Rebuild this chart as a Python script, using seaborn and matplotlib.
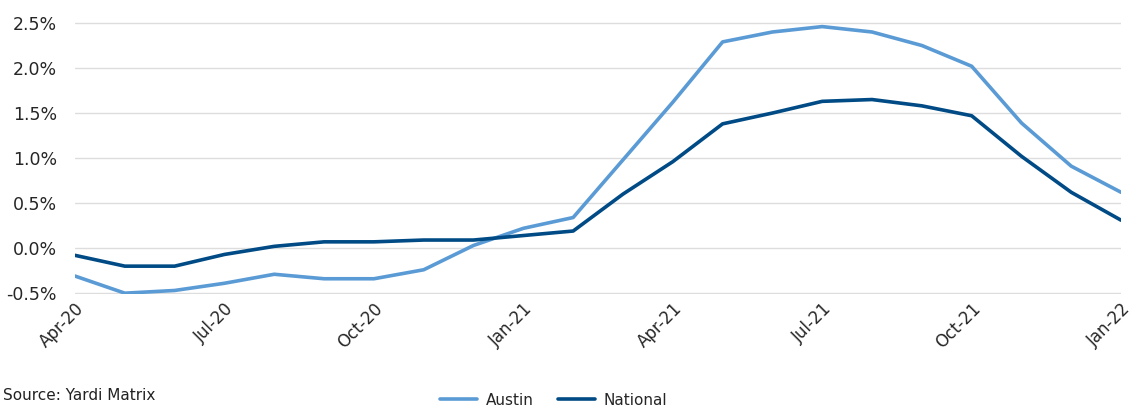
"""Austin vs National rent growth chart (Yardi Matrix)."""

import pandas as pd
import matplotlib
matplotlib.use('Agg')
import matplotlib.pyplot as plt
import seaborn as sns
from matplotlib.ticker import FuncFormatter

months = ['Apr-20', 'May-20', 'Jun-20', 'Jul-20', 'Aug-20', 'Sep-20', 'Oct-20',
          'Nov-20', 'Dec-20', 'Jan-21', 'Feb-21', 'Mar-21', 'Apr-21', 'May-21',
          'Jun-21', 'Jul-21', 'Aug-21', 'Sep-21', 'Oct-21', 'Nov-21', 'Dec-21',
          'Jan-22']
austin = [-0.31, -0.50, -0.47, -0.39, -0.29, -0.34, -0.34, -0.24, 0.03, 0.22,
          0.34, 0.98, 1.62, 2.29, 2.40, 2.46, 2.40, 2.25, 2.02, 1.39, 0.91, 0.62]
national = [-0.08, -0.20, -0.20, -0.07, 0.02, 0.07, 0.07, 0.09, 0.09, 0.14,
            0.19, 0.60, 0.96, 1.38, 1.50, 1.63, 1.65, 1.58, 1.47, 1.02, 0.62, 0.31]
series_names = ['Austin', 'National']
colors = ['#5B9BD5', '#004B85']

def main():
    sns.set_style('white')
    plt.rcParams['font.family'] = ['DejaVu Sans']

    df = pd.DataFrame({'idx': list(range(len(months))) * 2,
                       'value': austin + national,
                       'series': ['Austin'] * len(months) + ['National'] * len(months)})

    fig = plt.figure(figsize=(11.37, 4.09), dpi=100)
    ax = fig.add_axes([0.066, 0.281, 0.920, 0.665])

    sns.lineplot(data=df, x='idx', y='value', hue='series', hue_order=series_names,
                 palette=colors, linewidth=2.6, ax=ax, legend=False)

    ax.set_xlim(0, len(months) - 1)
    ax.set_ylim(-0.51, 2.51)
    ax.set_yticks([-0.5, 0, 0.5, 1.0, 1.5, 2.0, 2.5])
    ax.yaxis.set_major_formatter(FuncFormatter(lambda v, p: f'{v:.1f}%'))
    ax.set_xticks(range(0, len(months), 3))
    ax.set_xticklabels(months[::3], rotation=45, ha='right', rotation_mode='anchor')
    ax.tick_params(axis='both', labelsize=12.5, colors='#262626', length=0)
    ax.tick_params(axis='y', pad=13)
    ax.tick_params(axis='x', labelsize=12, pad=4)
    ax.grid(axis='y', color='#DDDDDD', linewidth=1)
    ax.set_axisbelow(True)
    for s in ax.spines.values():
        s.set_visible(False)
    ax.set_xlabel('')
    ax.set_ylabel('')

    handles = [plt.Line2D([], [], color=c, linewidth=2.6) for c in colors]
    fig.legend(handles, series_names, loc='center', bbox_to_anchor=(0.487, 0.022),
               ncol=2, frameon=False, fontsize=11, handlelength=2.4,
               handletextpad=0.6, columnspacing=1.6, labelcolor='#262626')

    fig.text(0.003, 0.033, 'Source: Yardi Matrix', ha='left', va='center',
             fontsize=11, color='#222222')

    fig.savefig('out.png', dpi=100)

if __name__ == '__main__':
    main()
